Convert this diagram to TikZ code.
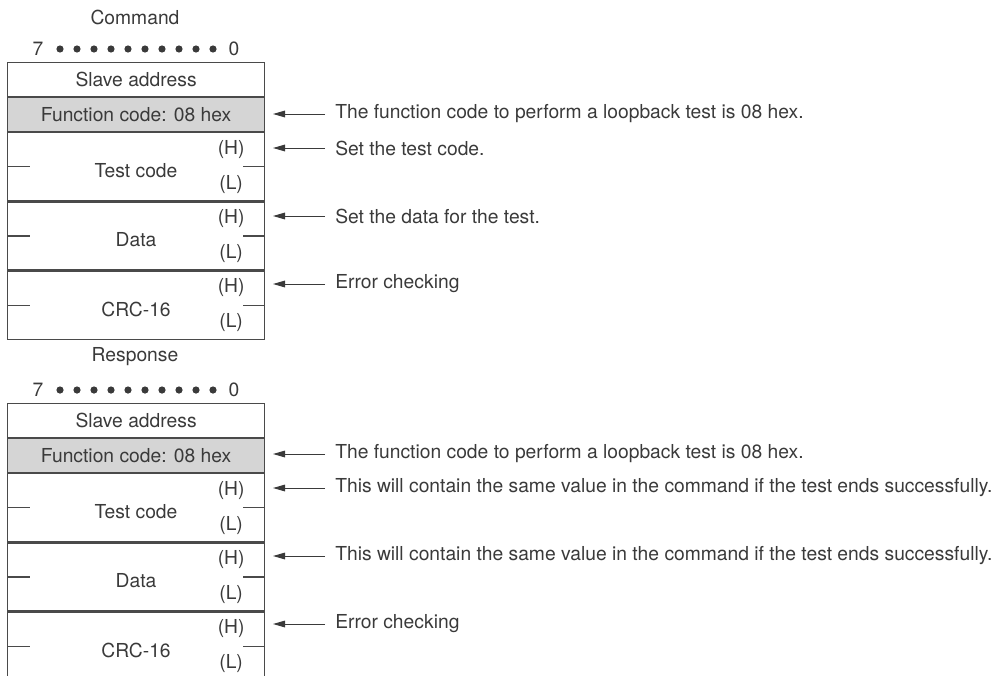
\documentclass[tikz,border=0pt]{standalone}
\usepackage{fontspec}
\setmainfont{TeX Gyre Heros}
\usetikzlibrary{arrows.meta}
\definecolor{ink}{HTML}{3A3A3A}
\definecolor{fcgray}{HTML}{D5D5D5}
\definecolor{ln}{HTML}{4A4A4A}
\begin{document}
\begin{tikzpicture}[x=0.75pt,y=-0.75pt,
  every node/.style={font=\fontsize{14.45}{17}\selectfont, text=ink},
  row/.style={draw=ln, line width=0.85pt, minimum width=192.75pt, inner sep=0pt, anchor=north west},
  single/.style={row, minimum height=25.5pt},
  double/.style={row, minimum height=51pt},
  tick/.style={draw=ln, line width=0.85pt},
  lbl/.style={inner sep=0pt},
  note/.style={anchor=west, inner xsep=7.5pt, inner ysep=0pt},
  arr/.style={draw=ink, line width=0.75pt, -{Triangle[length=9pt,width=5pt,fill=ink]}},
  dot/.style={circle, fill=ink, inner sep=0pt, minimum size=5.4pt}
]
\useasboundingbox (0,0) rectangle (999,675);

% ---------------- Command ----------------
\node[lbl] (cmd) at (135,17) {Command};
\node[lbl] (c7) at (38,49) {7};
\node[lbl] (c0) at (234,49) {0};
\foreach \i in {0,...,9} \node[dot] (cd\i) at (60+17*\i,49) {};

\node[single] (cs) at (7,62) {Slave address};
\node[single, fill=fcgray] (cf) at (cs.south west) {Function code: 08 hex};
\node[double] (ct) at (cf.south west) {};
\node[double] (cdt) at (ct.south west) {};
\node[double] (cc) at (cdt.south west) {};

% ---------------- Response ----------------
\node[lbl] (rsp) at (135,357) {Response};
\node[lbl] (r7) at (38,390) {7};
\node[lbl] (r0) at (234,390) {0};
\foreach \i in {0,...,9} \node[dot] (rd\i) at (60+17*\i,390) {};

\node[single] (rs) at (7,403) {Slave address};
\node[single, fill=fcgray] (rf) at (rs.south west) {Function code: 08 hex};
\node[double] (rt) at (rf.south west) {};
\node[double] (rdt) at (rt.south west) {};
\node[double] (rc) at (rdt.south west) {};

% contents of the two-byte rows
\foreach \b/\t in {ct/Test code, cdt/Data, cc/CRC-16, rt/Test code, rdt/Data, rc/CRC-16}{
  \node[lbl] (\b-txt) at ([yshift=-3pt]\b.center) {\t};
  \node[lbl] (\b-h) at ([xshift=-25.5pt,yshift=-13pt]\b.north east) {(H)};
  \node[lbl] (\b-l) at ([xshift=-25.5pt,yshift=12.5pt]\b.south east) {(L)};
  \draw[tick] (\b.west) -- ++(17.25pt,0);
  \draw[tick] (\b.east) -- ++(-16.5pt,0);
}

% ---------------- Notes ----------------
\foreach \b/\y/\t in {
  cf/114/{The function code to perform a loopback test is 08 hex.},
  ct/148/{Set the test code.},
  cdt/216/{Set the data for the test.},
  cc/284/{Error checking},
  rf/454/{The function code to perform a loopback test is 08 hex.},
  rt/488/{This will contain the same value in the command if the test ends successfully.},
  rdt/556/{This will contain the same value in the command if the test ends successfully.},
  rc/624/{Error checking}}{
  \node[note] (\b-note) at (325,\y) {\t};
  \coordinate (\b-tip) at (273,\y);
  \draw[arr] (\b-note.west) -- (\b-tip);
}
\end{tikzpicture}
\end{document}
